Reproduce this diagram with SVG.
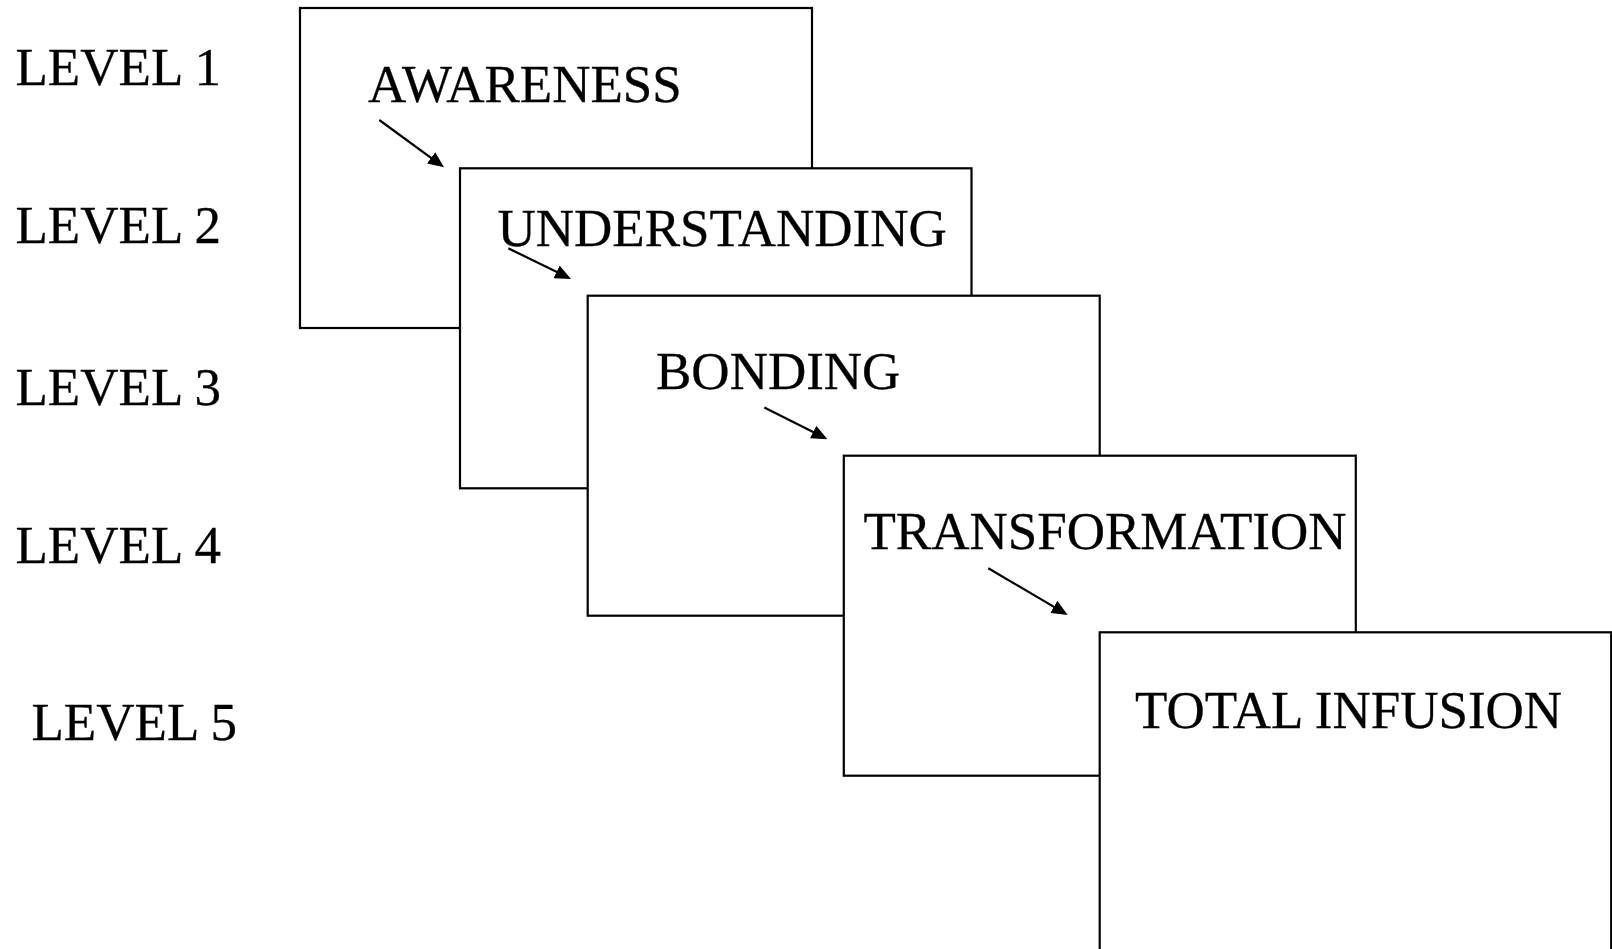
<svg xmlns="http://www.w3.org/2000/svg" width="1612" height="949" viewBox="0 0 1612 949">
<style>
  .box { fill: #ffffff; stroke: #000000; stroke-width: 2.2; }
  .t { font-family: "Liberation Serif", "Times New Roman", serif; font-size: 53px; fill: #000000; stroke: #000000; stroke-width: 0.3; }
  .arr { stroke: #000000; stroke-width: 2.2; fill: none; marker-end: url(#ah); }
</style>
<defs>
  <marker id="ah" viewBox="0 0 16 14" refX="10" refY="7" markerWidth="16" markerHeight="14" markerUnits="userSpaceOnUse" orient="auto">
    <path d="M0,0 L16,7 L0,14 z" fill="#000000"/>
  </marker>
</defs>
<g id="levels">
  <text class="t" x="15.5" y="85">LEVEL 1</text>
  <text class="t" x="15.5" y="243.3">LEVEL 2</text>
  <text class="t" x="15.5" y="405">LEVEL 3</text>
  <text class="t" x="15.5" y="563.3">LEVEL 4</text>
  <text class="t" x="31.5" y="740">LEVEL 5</text>
</g>
<g id="awareness">
  <rect class="box" x="300" y="8" width="512" height="320"/>
  <text class="t" x="368" y="102">AWARENESS</text>
</g>
<g id="understanding">
  <rect class="box" x="460" y="168.3" width="511.5" height="320"/>
  <text class="t" x="497.5" y="245.5">UNDERSTANDING</text>
</g>
<g id="bonding">
  <rect class="box" x="587.7" y="295.7" width="512" height="320"/>
  <text class="t" x="656" y="389.3">BONDING</text>
</g>
<g id="transformation">
  <rect class="box" x="843.8" y="455.7" width="512" height="320"/>
  <text class="t" x="863.5" y="549.3">TRANSFORMATION</text>
</g>
<g id="total-infusion">
  <rect class="box" x="1099.7" y="632.3" width="511.5" height="330"/>
  <text class="t" x="1135" y="728">TOTAL INFUSION</text>
</g>
<g id="connectors">
  <line class="arr" x1="379.3" y1="120" x2="439.2" y2="163.8"/>
  <line class="arr" x1="508.3" y1="248.3" x2="565.6" y2="276.3"/>
  <line class="arr" x1="764.3" y1="407.5" x2="822.1" y2="436.6"/>
  <line class="arr" x1="988.3" y1="568.3" x2="1062.5" y2="611.9"/>
</g>
</svg>
